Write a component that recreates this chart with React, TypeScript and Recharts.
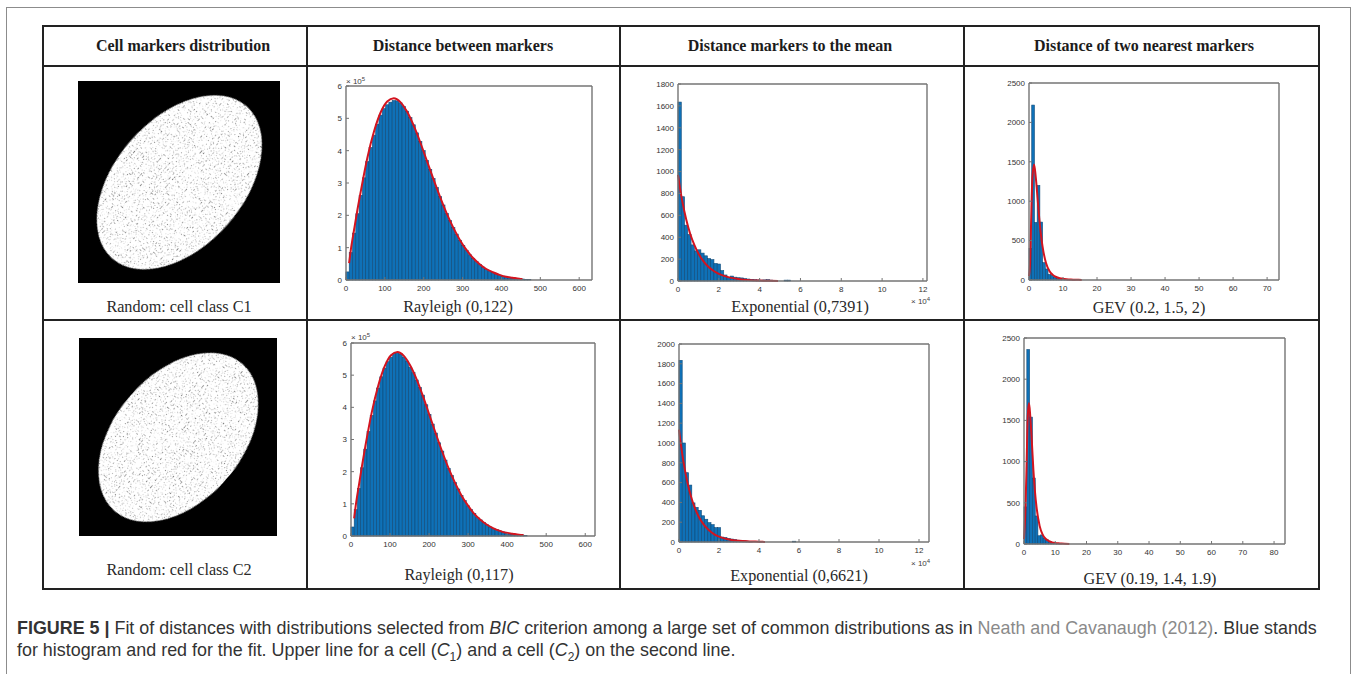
import { Bar, ComposedChart, Line, XAxis, YAxis } from "recharts";

// histogram bin centres and heights, fit curves
const rayleigh1BinX = [4, 12.5, 21, 29.5, 38, 46.5, 55, 63.5, 72, 80.5, 89, 97.5, 106, 114.5, 123, 131.5, 140, 148.5, 157, 165.5, 174, 182.5, 191, 199.5, 208, 216.5, 225, 233.5, 242, 250.5, 259, 267.5, 276, 284.5, 293, 301.5, 310, 318.5, 327, 335.5, 344, 352.5, 361, 369.5, 378, 386.5, 395, 403.5, 412, 420.5, 429, 437.5, 446, 454.5, 463, 471.5];
const rayleigh1Bins = [0.25, 0.85, 1.45, 2.05, 2.62, 3.16, 3.66, 4.1, 4.48, 4.82, 5.1, 5.3, 5.42, 5.5, 5.55, 5.54, 5.48, 5.36, 5.22, 5.02, 4.8, 4.55, 4.28, 4.0, 3.7, 3.42, 3.14, 2.86, 2.58, 2.32, 2.06, 1.84, 1.62, 1.42, 1.23, 1.07, 0.92, 0.78, 0.67, 0.57, 0.48, 0.4, 0.33, 0.27, 0.23, 0.19, 0.15, 0.12, 0.1, 0.08, 0.065, 0.05, 0.04, 0.03, 0.02, 0.012];
const rayleigh1FitX = [8, 12.5, 21, 29.5, 38, 55, 72, 89, 106, 123, 140, 157, 174, 191, 208, 225, 242, 259, 276, 293, 310, 327, 344, 361, 378, 395, 412, 429, 446, 454];
const rayleigh1Fit = [0.52, 0.94, 1.57, 2.18, 2.74, 3.78, 4.59, 5.18, 5.52, 5.62, 5.5, 5.21, 4.78, 4.26, 3.69, 3.12, 2.57, 2.06, 1.62, 1.24, 0.93, 0.68, 0.49, 0.34, 0.24, 0.16, 0.1, 0.07, 0.04, 0.03];

const rayleigh2BinX = [4.1, 12.3, 20.5, 28.7, 36.9, 45.1, 53.3, 61.5, 69.7, 77.9, 86.1, 94.3, 102.5, 110.7, 118.9, 127.1, 135.3, 143.5, 151.7, 159.9, 168.1, 176.3, 184.5, 192.7, 200.9, 209.1, 217.3, 225.5, 233.7, 241.9, 250.1, 258.3, 266.5, 274.7, 282.9, 291.1, 299.3, 307.5, 315.7, 323.9, 332.1, 340.3, 348.5, 356.7, 364.9, 373.1, 381.3, 389.5, 397.7, 405.9, 414.1, 422.3, 430.5, 438.7, 446.9];
const rayleigh2Bins = [0.28, 0.82, 1.48, 2.12, 2.7, 3.25, 3.75, 4.2, 4.6, 4.95, 5.22, 5.42, 5.56, 5.68, 5.7, 5.66, 5.56, 5.44, 5.25, 5.08, 4.85, 4.62, 4.38, 4.08, 3.78, 3.48, 3.2, 2.9, 2.64, 2.36, 2.1, 1.88, 1.66, 1.46, 1.26, 1.1, 0.94, 0.82, 0.7, 0.58, 0.5, 0.42, 0.35, 0.28, 0.24, 0.2, 0.16, 0.13, 0.1, 0.08, 0.06, 0.05, 0.04, 0.03, 0.015];
const rayleigh2FitX = [8, 12.3, 20.5, 28.7, 36.9, 53.3, 69.7, 86.1, 102.5, 118.9, 135.3, 151.7, 168.1, 184.5, 200.9, 217.3, 233.7, 250.1, 266.5, 282.9, 299.3, 315.7, 332.1, 348.5, 364.9, 381.3, 397.7, 414.1, 430.5, 442];
const rayleigh2Fit = [0.55, 0.96, 1.6, 2.22, 2.8, 3.85, 4.67, 5.27, 5.62, 5.72, 5.6, 5.3, 4.87, 4.34, 3.76, 3.18, 2.62, 2.1, 1.65, 1.26, 0.95, 0.69, 0.5, 0.35, 0.24, 0.16, 0.1, 0.07, 0.04, 0.03];

const expo1BinX = [0.08, 0.24, 0.4, 0.56, 0.72, 0.88, 1.04, 1.2, 1.36, 1.52, 1.68, 1.84, 2.0, 2.16, 2.32, 2.48, 2.64, 2.8, 2.96, 3.12, 3.28, 3.44, 3.6, 3.76, 3.92, 4.08, 4.24, 4.4, 4.56, 4.72, 5.28, 5.44];
const expo1Bins = [1635, 770, 510, 425, 330, 275, 285, 255, 230, 205, 195, 160, 155, 95, 55, 35, 45, 35, 30, 28, 22, 18, 15, 12, 10, 8, 10, 12, 8, 5, 8, 8];
const expo1FitX = [0, 0.1, 0.2, 0.4, 0.6, 0.8, 1, 1.25, 1.5, 1.75, 2, 2.5, 3, 3.5, 4, 4.5, 4.9];
const expo1Fit = [970, 847, 739, 565, 430, 330, 251, 179, 127, 91, 65, 33, 17, 8, 4, 2, 1];

const expo2BinX = [0.08, 0.24, 0.4, 0.56, 0.72, 0.88, 1.04, 1.2, 1.36, 1.52, 1.68, 1.84, 2.0, 2.16, 2.32, 2.48, 2.64, 2.8, 2.96, 3.12, 3.28, 3.44, 3.6, 4.08, 5.76];
const expo2Bins = [1835, 1000, 700, 575, 395, 350, 320, 265, 230, 195, 175, 145, 145, 50, 45, 35, 30, 25, 18, 14, 12, 8, 6, 6, 8];
const expo2FitX = [0, 0.1, 0.2, 0.4, 0.6, 0.8, 1, 1.25, 1.5, 1.75, 2, 2.5, 3, 3.5, 4, 4.3];
const expo2Fit = [1135, 975, 840, 620, 460, 340, 250, 172, 118, 80, 55, 26, 12, 6, 3, 1];

const gev1BinX = [0.4, 1.2, 2.0, 2.8, 3.6, 4.4, 5.2, 6.0, 6.8, 7.6, 8.4, 9.2, 10, 10.8, 11.6, 12.4, 13.2];
const gev1Bins = [400, 2220, 730, 1200, 735, 220, 140, 70, 60, 35, 22, 15, 12, 8, 6, 4, 3];
const gev1FitX = [0, 0.3, 0.6, 1, 1.5, 2, 2.5, 3, 3.5, 4, 5, 6, 7, 8, 9, 10, 11, 12, 13, 14, 15.5];
const gev1Fit = [50, 200, 700, 1300, 1465, 1300, 1050, 790, 580, 420, 215, 115, 65, 38, 24, 15, 10, 7, 4, 3, 1];

const gev2BinX = [0.45, 1.35, 2.25, 3.15, 4.0, 4.85, 5.7, 6.55, 7.4, 8.25, 9.1, 9.95, 10.8, 11.65];
const gev2Bins = [450, 2360, 1540, 800, 340, 100, 110, 70, 50, 30, 20, 12, 8, 5];
const gev2FitX = [0, 0.4, 0.8, 1.2, 1.6, 2, 2.5, 3, 3.5, 4, 5, 6, 7, 8, 9, 10, 11, 12, 13, 14.5];
const gev2Fit = [60, 350, 900, 1550, 1710, 1550, 1250, 900, 640, 450, 220, 110, 60, 35, 20, 12, 8, 5, 3, 1];

const rayleighXTicks = [0, 100, 200, 300, 400, 500, 600];
const expoXTicks = [0, 2, 4, 6, 8, 10, 12];
const gev1XTicks = [0, 10, 20, 30, 40, 50, 60, 70];
const gev2XTicks = [0, 10, 20, 30, 40, 50, 60, 70, 80];
const rayleighYTicks = [0, 1, 2, 3, 4, 5, 6];
const expo1YTicks = [0, 200, 400, 600, 800, 1000, 1200, 1400, 1600, 1800];
const expo2YTicks = [0, 200, 400, 600, 800, 1000, 1200, 1400, 1600, 1800, 2000];
const gevYTicks = [0, 500, 1000, 1500, 2000, 2500];

const headers = [
  { text: "Cell markers distribution", x: 183 },
  { text: "Distance between markers", x: 463 },
  { text: "Distance markers to the mean", x: 790 },
  { text: "Distance of two nearest markers", x: 1144 },
];
const captions = [
  { text: "Random: cell class C1", x: 179, y: 307 },
  { text: "Rayleigh (0,122)", x: 458, y: 307 },
  { text: "Exponential (0,7391)", x: 800, y: 307 },
  { text: "GEV (0.2, 1.5, 2)", x: 1149, y: 308 },
  { text: "Random: cell class C2", x: 179, y: 570 },
  { text: "Rayleigh (0,117)", x: 459, y: 575 },
  { text: "Exponential (0,6621)", x: 799, y: 576 },
  { text: "GEV (0.19, 1.4, 1.9)", x: 1150, y: 579 },
];

const tableLines = [
  { x: 43, y: 25, w: 1276, h: 2 },
  { x: 43, y: 65, w: 1277, h: 2 },
  { x: 43, y: 319, w: 1277, h: 2 },
  { x: 43, y: 588, w: 1277, h: 2 },
  { x: 42, y: 25, w: 2, h: 565 },
  { x: 306, y: 25, w: 2, h: 565 },
  { x: 619, y: 25, w: 2, h: 565 },
  { x: 963, y: 25, w: 2, h: 565 },
  { x: 1318, y: 25, w: 2, h: 565 },
];

function buildRows(binX: number[], bins: number[], fitX: number[], fit: number[]) {
  const rows = [
    ...binX.map((x, i) => ({ x, count: bins[i] })),
    ...fitX.map((x, i) => ({ x, fit: fit[i] })),
  ];
  return rows.sort((a, b) => a.x - b.x);
}

const AXIS_COLOR = "#747474";
const AXIS_LINE = { stroke: AXIS_COLOR, strokeWidth: 1.4 };
const TICK_STYLE = { fill: "#333", fontSize: 8, fontFamily: "Liberation Sans" };

// recharts shrinks thin bars on a number axis, so the bin width is set here
const binShape = (binWidth: number) => (props: any) => {
  const { x, y, width, height } = props;
  if (!height) return <g />;
  return <rect x={x + width / 2 - binWidth / 2} y={y} width={binWidth} height={height} fill="#0f71b7" stroke="#0f4a78" strokeWidth={0.6} />;
};

function Histogram({ left, top, width, height, rows, xMax, yMax, xTicks, yTicks, barSize }: any) {
  const pad = { left: 34, top: 6, right: 6, bottom: 18 };
  return (
    <div style={{ position: "absolute", left: left - pad.left, top: top - pad.top }}>
      <ComposedChart
        width={width + pad.left + pad.right}
        height={height + pad.top + pad.bottom}
        data={rows}
        margin={{ top: pad.top - 1, right: pad.right - 1, left: 0, bottom: 0 }}
      >
        <XAxis
          xAxisId="b"
          dataKey="x"
          type="number"
          domain={[0, xMax]}
          ticks={xTicks}
          height={pad.bottom}
          tick={TICK_STYLE}
          tickSize={-3}
          tickMargin={8}
          interval={0}
          stroke={AXIS_COLOR}
          axisLine={AXIS_LINE}
        />
        <XAxis xAxisId="t" dataKey="x" orientation="top" type="number" domain={[0, xMax]} ticks={xTicks} height={1} tick={false} tickSize={-3} interval={0} stroke={AXIS_COLOR} axisLine={AXIS_LINE} />
        <YAxis
          yAxisId="l"
          type="number"
          domain={[0, yMax]}
          ticks={yTicks}
          width={pad.left}
          tick={TICK_STYLE}
          tickSize={-3}
          tickMargin={7}
          interval={0}
          stroke={AXIS_COLOR}
          axisLine={AXIS_LINE}
        />
        <YAxis yAxisId="r" orientation="right" type="number" domain={[0, yMax]} ticks={yTicks} width={1} tick={false} tickSize={-3} interval={0} stroke={AXIS_COLOR} axisLine={AXIS_LINE} />
        <Bar xAxisId="b" yAxisId="l" dataKey="count" shape={binShape(barSize)} isAnimationActive={false} />
        <Line xAxisId="b" yAxisId="l" dataKey="fit" type="monotone" stroke="#d3141f" strokeWidth={2} dot={false} connectNulls isAnimationActive={false} />
        <Line xAxisId="t" yAxisId="r" dataKey="fit" stroke="none" dot={false} connectNulls isAnimationActive={false} />
      </ComposedChart>
    </div>
  );
}

function CellImage({ x, y, size, a, b, angle, id }: any) {
  const c = size / 2;
  return (
    <svg style={{ position: "absolute", left: x, top: y }} width={size} height={size}>
      <defs>
        <filter id={id} x="0" y="0" width="100%" height="100%">
          <feTurbulence type="fractalNoise" baseFrequency="0.7" numOctaves="1" seed={id === "m1" ? 4 : 9} result="n" />
          <feColorMatrix in="n" values="0 0 0 0 0.2  0 0 0 0 0.2  0 0 0 0 0.2  0 7 0 0 -4.1" result="s" />
          <feComposite in="s" in2="SourceAlpha" operator="in" result="d" />
          <feMerge>
            <feMergeNode in="SourceGraphic" />
            <feMergeNode in="d" />
          </feMerge>
        </filter>
      </defs>
      <rect width={size} height={size} fill="#000" />
      <ellipse cx={c} cy={c + 0.5} rx={a} ry={b} fill="#fff" transform={`rotate(${-angle} ${c} ${c})`} filter={`url(#${id})`} />
    </svg>
  );
}

function Exponent({ x, y, power }: any) {
  return (
    <div style={{ position: "absolute", left: x, top: y, fontFamily: "Liberation Sans", fontSize: 8, color: "#3c3c3c", lineHeight: "10px" }}>
      × 10<sup style={{ fontSize: 6, verticalAlign: "3px", lineHeight: 0 }}>{power}</sup>
    </div>
  );
}

export default function App() {
  return (
    <div style={{ position: "absolute", left: 0, top: 0, width: 1357, height: 674, background: "#fff", overflow: "hidden" }}>
      <div style={{ position: "absolute", left: 6, top: 7, width: 1343, height: 680, border: "1px solid #8c8c8c" }} />
      {tableLines.map((l, i) => (
        <div key={i} style={{ position: "absolute", left: l.x, top: l.y, width: l.w, height: l.h, background: "#222" }} />
      ))}
      {headers.map((h) => (
        <div key={h.text} style={{ position: "absolute", left: h.x - 150, width: 300, top: 37, textAlign: "center", fontFamily: "Liberation Serif", fontWeight: 700, fontSize: 16, color: "#1c1c1c", lineHeight: "18px", whiteSpace: "nowrap" }}>
          {h.text}
        </div>
      ))}
      {captions.map((c) => (
        <div key={c.text} style={{ position: "absolute", left: c.x - 150, width: 300, top: c.y - 9, textAlign: "center", fontFamily: "Liberation Serif", fontSize: 16.2, color: "#2a2a2a", lineHeight: "18px" }}>
          {c.text}
        </div>
      ))}

      <CellImage x={78} y={81} size={202} a={101.5} b={64} angle={48.5} id="m1" />
      <CellImage x={79} y={338} size={198} a={97.4} b={63.6} angle={49} id="m2" />

      <Histogram left={346} top={86} width={246} height={194} rows={buildRows(rayleigh1BinX, rayleigh1Bins, rayleigh1FitX, rayleigh1Fit)} xMax={633} yMax={6} xTicks={rayleighXTicks} yTicks={rayleighYTicks} barSize={3.3} />
      <Histogram left={678} top={84} width={249} height={197} rows={buildRows(expo1BinX, expo1Bins, expo1FitX, expo1Fit)} xMax={12.2} yMax={1800} xTicks={expoXTicks} yTicks={expo1YTicks} barSize={3.3} />
      <Histogram left={1029} top={83} width={250} height={197} rows={buildRows(gev1BinX, gev1Bins, gev1FitX, gev1Fit)} xMax={73.5} yMax={2500} xTicks={gev1XTicks} yTicks={gevYTicks} barSize={2.7} />
      <Histogram left={351} top={343} width={244} height={193} rows={buildRows(rayleigh2BinX, rayleigh2Bins, rayleigh2FitX, rayleigh2Fit)} xMax={625} yMax={6} xTicks={rayleighXTicks} yTicks={rayleighYTicks} barSize={3.2} />
      <Histogram left={679} top={344} width={250} height={198} rows={buildRows(expo2BinX, expo2Bins, expo2FitX, expo2Fit)} xMax={12.5} yMax={2000} xTicks={expoXTicks} yTicks={expo2YTicks} barSize={3.2} />
      <Histogram left={1024} top={338} width={261} height={206} rows={buildRows(gev2BinX, gev2Bins, gev2FitX, gev2Fit)} xMax={83.5} yMax={2500} xTicks={gev2XTicks} yTicks={gevYTicks} barSize={2.8} />

      <Exponent x={346} y={77} power={5} />
      <Exponent x={911} y={297} power={4} />
      <Exponent x={351} y={333} power={5} />
      <Exponent x={911} y={559} power={4} />

      <div style={{ position: "absolute", left: 17, top: 617, width: 1340, fontFamily: "Liberation Sans", fontSize: 17.9, lineHeight: "22px", color: "#333", whiteSpace: "nowrap" }}>
        <div>
          <b>FIGURE 5 |</b> Fit of distances with distributions selected from <i>BIC</i> criterion among a large set of common distributions as in <span style={{ color: "#8a8a8a" }}>Neath and Cavanaugh (2012)</span>. Blue stands
        </div>
        <div>
          for histogram and red for the fit. Upper line for a cell (<i>C</i><sub style={{ fontSize: 12, lineHeight: 0 }}>1</sub>) and a cell (<i>C</i><sub style={{ fontSize: 12, lineHeight: 0 }}>2</sub>) on the second line.
        </div>
      </div>
    </div>
  );
}
